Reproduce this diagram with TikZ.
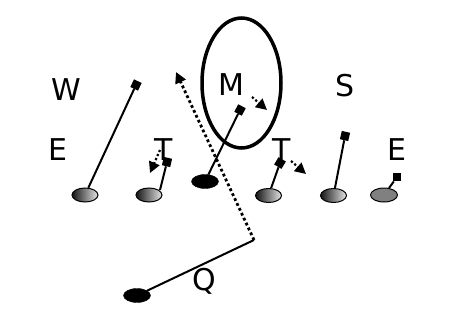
\documentclass[tikz,border=0pt]{standalone}
\usepackage{fontspec}
\setmainfont{DejaVu Sans}
\usetikzlibrary{shapes.geometric,arrows.meta}
\begin{document}
\begin{tikzpicture}[x=1pt,y=-1pt,
  lbl/.style={font=\fontsize{30}{30}\selectfont, inner sep=0pt, anchor=base},
  pl/.style={ellipse, draw=black, line width=1pt, minimum width=26pt, minimum height=14pt, inner sep=0pt, left color=black!92, right color=black!10},
  plgray/.style={ellipse, draw=black, line width=1pt, minimum width=27pt, minimum height=14pt, inner sep=0pt, fill=black!50},
  plblack/.style={ellipse, draw=black, fill=black, minimum width=27pt, minimum height=14pt, inner sep=0pt},
  sq/.style={rectangle, fill=black, minimum size=8.5pt, inner sep=0pt},
  zone/.style={ellipse, draw=black, line width=3.5pt, minimum width=79pt, minimum height=130pt, inner sep=0pt},
  blk/.style={line width=2pt},
  dotln/.style={line width=2.8pt, dash pattern=on 2.8pt off 2.6pt},
  stuntln/.style={line width=2.2pt, dash pattern=on 2.2pt off 2.2pt},
  tip/.style={-{Triangle[length=11pt,width=11pt]}}
]
\useasboundingbox (0,0) rectangle (450,332);

% labels
\node[lbl] (lw) at (66,100) {W};
\node[lbl] (lm) at (231,95.5) {M};
\node[lbl] (ls) at (345,96.5) {S};
\node[lbl] (le1) at (58,160.5) {E};
\node[lbl] (lt1) at (164,160.5) {T};
\node[lbl] (lt2) at (282,160.5) {T};
\node[lbl] (le2) at (397,160.5) {E};
\node[lbl] (lq) at (204,290) {Q};

% zone ellipse
\node[zone] (mz) at (241.5,83) {};

% block end squares
\node[sq, rotate=64] (s1) at (136,85) {};
\node[sq, rotate=77] (s2) at (167,162) {};
\node[sq, rotate=63] (s3) at (240,110) {};
\node[sq, rotate=59] (s4) at (280,163) {};
\node[sq, rotate=77] (s5) at (345,136) {};
\node[sq] (s6) at (397,177) {};

% players
\node[pl] (p1) at (85,195) {};
\node[pl] (p2) at (149,195) {};
\node[plblack] (p3) at (205,181.5) {};
\node[pl] (p4) at (268.5,195.5) {};
\node[pl] (p5) at (333.5,195.5) {};
\node[plgray] (p6) at (384,195) {};
\node[plblack] (q) at (137,295.5) {};

% blocks
\draw[blk] (p1) -- (s1);
\draw[blk] ([shift={(11,-5)}]p2.center) -- (s2);
\draw[blk] (p3) -- (s3);
\draw[blk] (p4) -- (s4);
\draw[blk] (p5) -- (s5);
\draw[blk] (p6) -- (s6);

% QB path
\coordinate (qc) at (254,240);
\coordinate (qt) at (176,72);
\draw[blk] (q) -- (qc);
\draw[dotln, tip] (qc) -- (qt);

% stunts
\coordinate (a1) at (160,150);
\coordinate (a1t) at (150,173);
\draw[stuntln, tip] (a1) -- (a1t);
\coordinate (a2) at (252,97);
\coordinate (a2t) at (267,110);
\draw[stuntln, tip] (a2) -- (a2t);
\coordinate (a3) at (291,161);
\coordinate (a3t) at (306,174);
\draw[stuntln, tip] (a3) -- (a3t);
\end{tikzpicture}
\end{document}
